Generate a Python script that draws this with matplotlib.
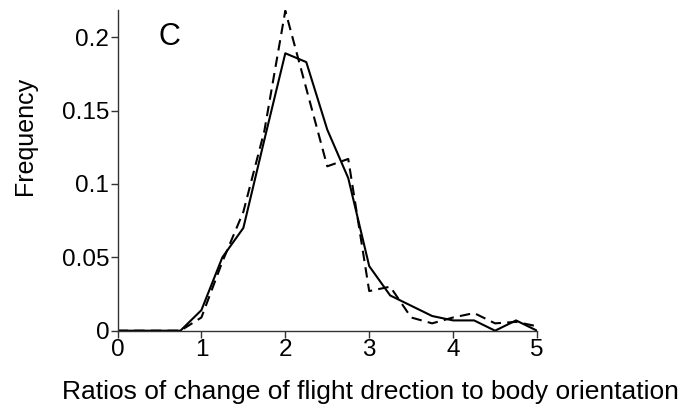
import matplotlib.pyplot as plt

plt.rcParams['font.family'] = ['Liberation Sans', 'DejaVu Sans']

# Frequency of ratio values, binned every 0.25
ratio_bins = [0, 0.25, 0.5, 0.75, 1.0, 1.25, 1.5, 1.75, 2.0, 2.25, 2.5,
              2.75, 3.0, 3.25, 3.5, 3.75, 4.0, 4.25, 4.5, 4.75, 5.0]
freq_solid = [0, 0, 0, 0, 0.014, 0.050, 0.070, 0.130, 0.189, 0.183, 0.137,
              0.104, 0.044, 0.024, 0.017, 0.010, 0.007, 0.007, 0, 0.007, 0]
freq_dashed = [0, 0, 0, 0, 0.009, 0.047, 0.081, 0.136, 0.218, 0.165, 0.112,
               0.117, 0.027, 0.030, 0.009, 0.005, 0.009, 0.012, 0.005, 0.006, 0.003]

x_ticks = [0, 1, 2, 3, 4, 5]
y_ticks = [0, 0.05, 0.1, 0.15, 0.2]
y_tick_labels = ['0', '0.05', '0.1', '0.15', '0.2']

fig = plt.figure(figsize=(6.82, 4.11), dpi=100)
ax = fig.add_axes([0.1723, 0.1954, 0.6151, 0.7803])

ax.plot(ratio_bins, freq_solid, color='black', linewidth=1.5)
ax.plot(ratio_bins, freq_dashed, color='black', linewidth=1.5, dashes=(5, 3))

ax.set_xlim(0, 5)
ax.set_ylim(0, 0.2185)
ax.set_xticks(x_ticks)
ax.set_xticklabels([str(t) for t in x_ticks])
ax.set_yticks(y_ticks)
ax.set_yticklabels(y_tick_labels)

for side in ['top', 'right']:
    ax.spines[side].set_visible(False)
for side in ['left', 'bottom']:
    ax.spines[side].set_color('#333333')
    ax.spines[side].set_linewidth(1.0)

ax.tick_params(axis='both', direction='out', length=5, width=1, color='#333333',
               labelsize=17.5, pad=1)

ax.set_ylabel('Frequency', fontsize=18)
ax.yaxis.set_label_coords(-0.192, 0.607)
ax.set_xlabel('Ratios of change of flight drection to body orientation', fontsize=19)
ax.xaxis.set_label_coords(0.602, -0.155)

ax.text(0.62, 0.2, 'C', fontsize=22, ha='center', va='center')

fig.savefig('out.png', dpi=100)
